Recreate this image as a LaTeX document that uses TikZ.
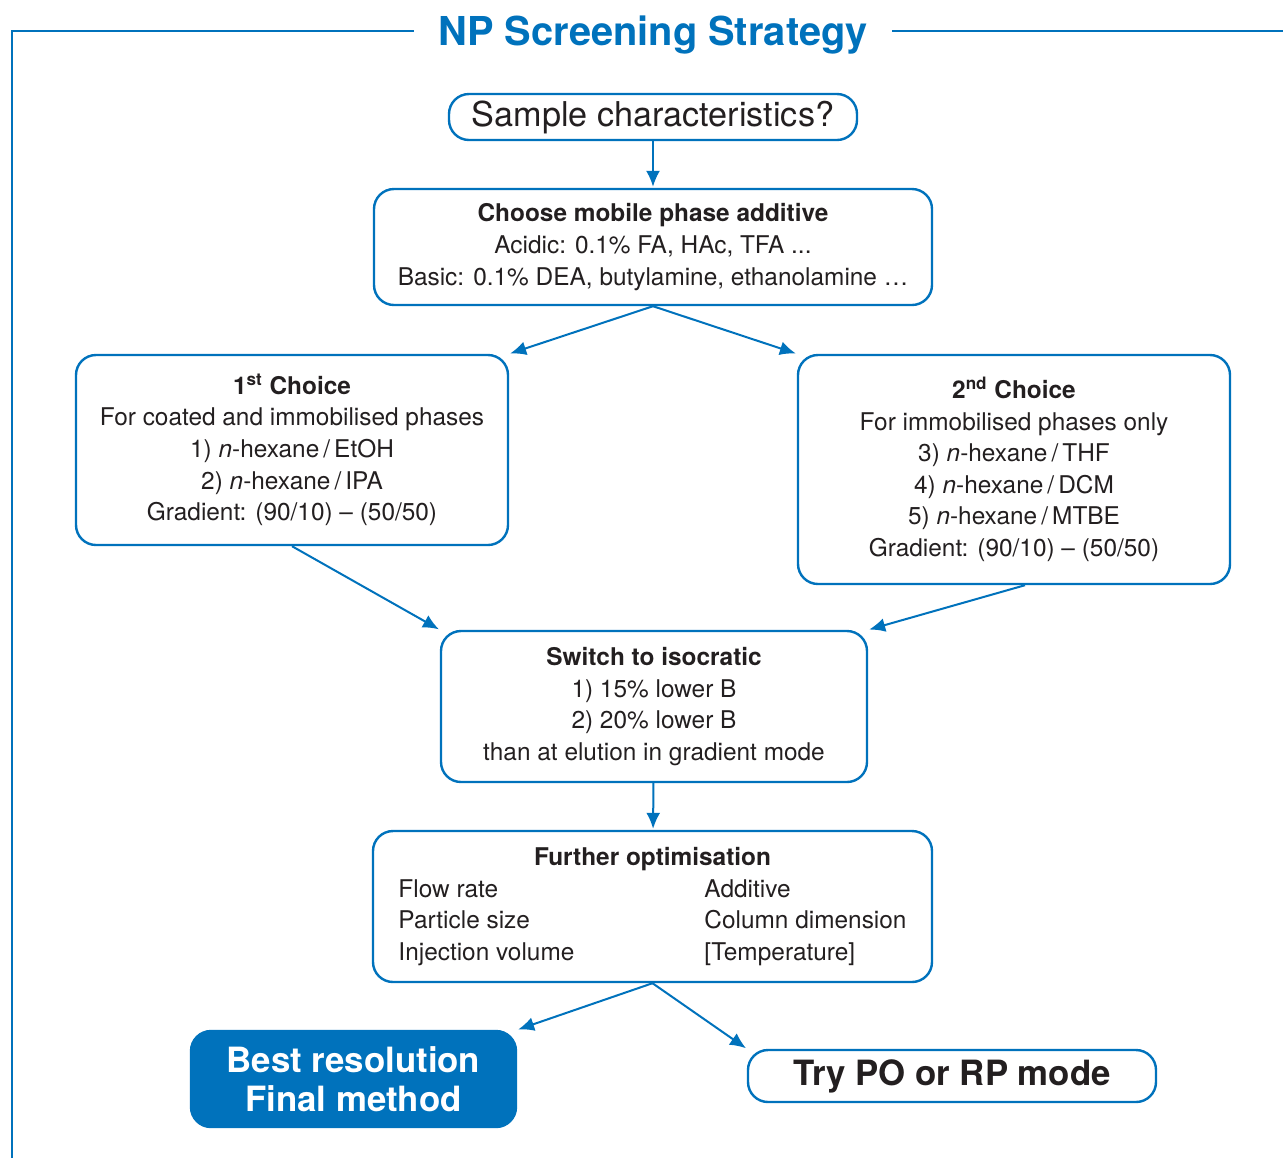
\documentclass[tikz,border=0pt]{standalone}
\usepackage{fontspec}
\setmainfont{TeX Gyre Heros}
\usetikzlibrary{arrows.meta}
\definecolor{npblue}{RGB}{0,114,188}
\definecolor{npdark}{RGB}{35,31,32}
\newcommand{\boxfont}{\fontsize{12.2pt}{15.8pt}\selectfont}
\newcommand{\bigfont}{\fontsize{17.4pt}{19.5pt}\selectfont}

\begin{document}
\begin{tikzpicture}[x=0.5pt, y=-0.5pt, >={Latex[length=8pt,width=7pt]},
    stepbox/.style={draw=npblue, line width=1.2pt, rounded corners=10pt,
        text=npdark, align=center, font=\boxfont, inner sep=0pt},
    link/.style={->, npblue, line width=1pt, shorten >=0.5pt}]
    \useasboundingbox (0,0) rectangle (1283,1158);

    % frame and title
    \draw[npblue, line width=1pt] (1283,31) -- (12,31) -- (12,1158);
    \node[fill=white, text=npblue, anchor=base, inner xsep=12pt,
        font=\fontsize{19.9pt}{22pt}\selectfont\bfseries] (title) at (653,45) {NP Screening Strategy};

    \node[stepbox, minimum width=204pt, minimum height=23pt,
        font=\fontsize{17.1pt}{19.5pt}\selectfont] (sample) at (653,117)
        {Sample characteristics?};
    \node[stepbox, minimum width=279pt, minimum height=58pt] (additive) at (653,247)
        {\textbf{Choose mobile phase additive}\\
         Acidic: 0.1\% FA, HAc, TFA ...\\
         Basic: 0.1\% DEA, butylamine, ethanolamine \dots};
    \node[stepbox, minimum width=216pt, minimum height=95pt] (first) at (292,450)
        {\textbf{1\textsuperscript{st} Choice}\\
         For coated and immobilised phases\\
         1) \textit{n}-hexane\,/\,EtOH\\
         2) \textit{n}-hexane\,/\,IPA\\
         Gradient: (90/10) -- (50/50)};
    \node[stepbox, minimum width=216pt, minimum height=114.5pt] (second) at (1014,469.5)
        {\textbf{2\textsuperscript{nd} Choice}\\
         For immobilised phases only\\
         3) \textit{n}-hexane\,/\,THF\\
         4) \textit{n}-hexane\,/\,DCM\\
         5) \textit{n}-hexane\,/\,MTBE\\
         Gradient: (90/10) -- (50/50)};
    \node[stepbox, minimum width=213pt, minimum height=75.5pt] (isocratic) at (654,706.5)
        {\textbf{Switch to isocratic}\\
         1) 15\% lower B\\
         2) 20\% lower B\\
         than at elution in gradient mode};
    \node[stepbox, minimum width=279.5pt, minimum height=75.5pt] (further) at (652.5,906.5)
        {\begin{tabular}{@{}p{153pt}@{}l@{}}
         \multicolumn{2}{c}{\textbf{Further optimisation}}\\
         Flow rate & Additive\\
         Particle size & Column dimension\\
         Injection volume & [Temperature]
         \end{tabular}};
    \node[stepbox, fill=npblue, text=white, minimum width=162.5pt, minimum height=48pt,
        font=\bigfont\bfseries] (best) at (353.5,1079)
        {Best resolution\\Final method};
    \node[stepbox, minimum width=204pt, minimum height=26pt, font=\bigfont\bfseries] (retry) at (952,1076)
        {Try PO or RP mode};

    \draw[link] (sample) -- (additive);
    \draw[link] (additive.south) -- (first.north east);
    \draw[link] (additive.south) -- (second.north west);
    \draw[link] (first.south) -- (isocratic.north west);
    \draw[link] ([xshift=5.5pt]second.south) -- (isocratic.north east);
    \draw[link] (isocratic) -- (further);
    \draw[link] (further.south) -- (best.north east);
    \draw[link] (further.south) -- (retry.north west);
\end{tikzpicture}
\end{document}
